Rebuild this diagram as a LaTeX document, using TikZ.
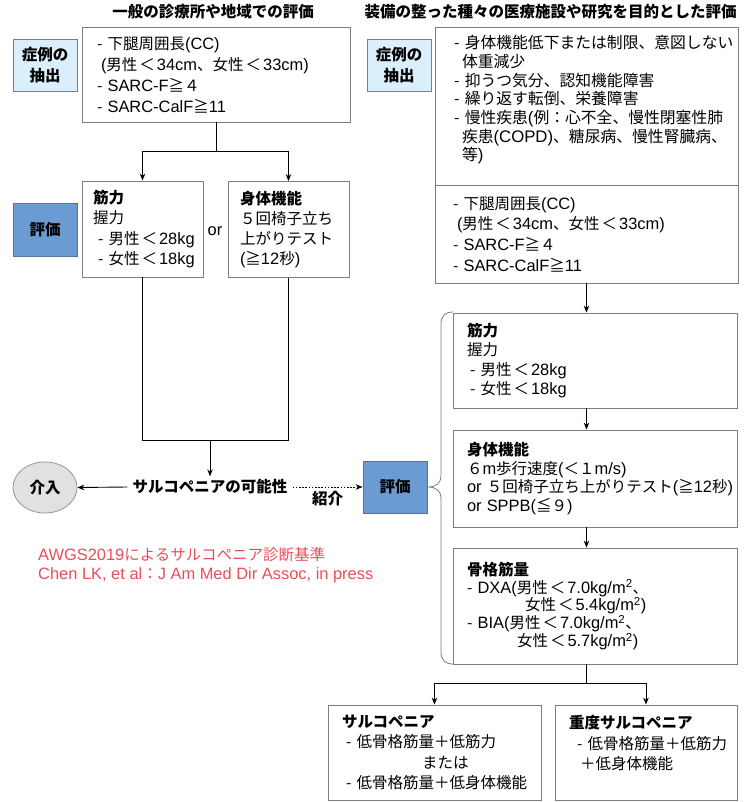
\documentclass[tikz,border=0pt]{standalone}
\usepackage{fontspec}
\setmainfont{Noto Sans CJK JP}
\newfontfamily\latfont{Liberation Sans}[Scale=1.06]
\newcommand\lt[1]{{\latfont #1}}
\newcommand\dl{\mbox{-}~}
\newcommand\lss{\kern2pt＜\kern2pt}
\usetikzlibrary{arrows.meta,shapes.geometric}
\definecolor{bgray}{RGB}{125,125,125}
\definecolor{evblue}{RGB}{106,155,210}
\definecolor{evedge}{RGB}{85,115,155}
\definecolor{exblue}{RGB}{218,238,252}
\definecolor{ingray}{RGB}{225,225,225}
\definecolor{ingrayedge}{RGB}{150,150,150}
\definecolor{refred}{RGB}{232,78,90}
\newcommand\myfs[2]{\fontsize{#1}{#2}\selectfont}
\begin{document}
\begin{tikzpicture}[x=1pt,y=-1pt,
  bx/.style={draw=bgray, line width=0.8pt, fill=white, align=left, inner ysep=0pt},
  tag/.style={draw=bgray, line width=0.8pt, minimum width=64pt, minimum height=52pt, inner sep=0pt, align=center, font=\bfseries\myfs{15.5}{21}},
  extag/.style={tag, fill=exblue},
  evtag/.style={tag, fill=evblue, draw=evedge},
  arr/.style={-{Stealth[length=7pt,width=5.5pt]}, line width=0.9pt, black},
  ln/.style={line width=0.9pt, black},
  hdr/.style={font=\bfseries\myfs{15.5}{18}, inner sep=0pt},
  bracepath/.style={draw=bgray, line width=0.8pt}]
\useasboundingbox (0,0) rectangle (755,802);

% headers
\node[hdr] (hL) at (213,12) {一般の診療所や地域での評価};
\node[hdr] (hR) at (550.5,12) {装備の整った種々の医療施設や研究を目的とした評価};

% left column
\node[extag] (exL) at (45,65) {症例の\\抽出};
\node[bx, text width=238pt, inner xsep=15pt, minimum height=95pt, font=\myfs{15.5}{21}] (critL) at (216,74.5)
  {\dl 下腿周囲長\lt{(CC)}\\\hspace*{4pt}\lt{(}男性\lss\lt{34cm}、女性\lss\lt{33cm)}\\\dl\lt{SARC-F}≧４\\\dl\lt{SARC-CalF}≧\lt{11}};

\node[evtag, minimum height=53pt] (evL) at (45,229.5) {評価};
\node[bx, text width=99pt, inner xsep=11pt, minimum height=96pt, font=\myfs{15.5}{20.3}] (musL) at (142.5,229)
  {\textbf{筋力}\\握力\\\hspace*{5pt}\dl 男性\lss\lt{28kg}\\\hspace*{5pt}\dl 女性\lss\lt{18kg}};
\node[font=\latfont\myfs{15.5}{18}, inner sep=1pt] (orL) at (215,231) {or};
\node[bx, text width=97pt, inner xsep=12pt, minimum height=96pt, font=\myfs{15.5}{20.3}] (physL) at (288.5,229.5)
  {\textbf{身体機能}\\５回椅子立ち\\上がりテスト\\\lt{(}≧\lt{12}秒\lt{)}};

\node[font=\bfseries\myfs{15.5}{18}, inner xsep=5pt, inner ysep=3pt] (poss) at (210,487) {サルコペニアの可能性};
\node[ellipse, draw=ingrayedge, fill=ingray, line width=0.8pt, minimum width=64pt, minimum height=51pt, inner sep=0pt, font=\bfseries\myfs{15.5}{18}] (intv) at (45,487.5) {介入};
\node[evtag] (evR) at (395,487) {評価};

\node[anchor=west, align=left, text=refred, font=\myfs{15.5}{19}, inner sep=0pt] (ref) at (38,565)
  {\lt{AWGS2019}によるサルコペニア診断基準\\\lt{Chen LK, et al}：\lt{J Am Med Dir Assoc, in press}};

% right column
\node[extag] (exR) at (399,65) {症例の\\抽出};
\node[bx, text width=265pt, inner xsep=19pt, minimum height=158pt, font=\myfs{15.8}{18.7}] (rcA) at (586.5,106)
  {\dl 身体機能低下または制限、意図しない\\
   \hspace*{8pt}体重減少\\
   \dl 抑うつ気分、認知機能障害\\
   \dl 繰り返す転倒、栄養障害\\
   \dl 慢性疾患\lt{(}例：心不全、慢性閉塞性肺\\
   \hspace*{8pt}疾患\lt{(COPD)}、糖尿病、慢性腎臓病、\\
   \hspace*{8pt}等\lt{)}\\[-3pt]\mbox{}};
\node[bx, text width=267pt, inner xsep=18pt, minimum height=98pt, font=\myfs{15.5}{20.7}] (rcB) at (586.5,234)
  {\dl 下腿周囲長\lt{(CC)}\\\hspace*{4pt}\lt{(}男性\lss\lt{34cm}、女性\lss\lt{33cm)}\\\dl\lt{SARC-F}≧４\\\dl\lt{SARC-CalF}≧\lt{11}};

\node[bx, text width=256pt, inner xsep=14pt, minimum height=95pt, font=\myfs{15.5}{19.3}] (musR) at (595,360.5)
  {\textbf{筋力}\\握力\\\hspace*{3pt}\dl 男性\lss\lt{28kg}\\\hspace*{3pt}\dl 女性\lss\lt{18kg}};
\node[bx, text width=256pt, inner xsep=14pt, minimum height=97pt, font=\myfs{15.5}{18.7}] (physR) at (595,478.5)
  {\textbf{身体機能}\\６\lt{m}歩行速度\lt{(}＜１\lt{m/s)}\\\lt{or}~５回椅子立ち上がりテスト\lt{(}≧\lt{12}秒\lt{)}\\\lt{or~SPPB(}≦９\lt{)}};
\node[bx, text width=256pt, inner xsep=14pt, minimum height=116pt, font=\myfs{15.5}{17.8}] (smm) at (595,606)
  {\textbf{骨格筋量}\\\dl\lt{DXA(}男性\lss\lt{7.0kg/m\textsuperscript{2}}、\\\hspace*{58pt}女性\lss\lt{5.4kg/m\textsuperscript{2})}\\\dl\lt{BIA(}男性\lss\lt{7.0kg/m\textsuperscript{2}}、\\\hspace*{50pt}女性\lss\lt{5.7kg/m\textsuperscript{2})}};

\node[bx, text width=185pt, inner xsep=14pt, minimum height=95pt, font=\myfs{15.5}{20.3}] (sarc) at (434.5,752.5)
  {\textbf{サルコペニア}\\\hspace*{4pt}\dl 低骨格筋量＋低筋力\\\hspace*{80pt}または\\\hspace*{4pt}\dl 低骨格筋量＋低身体機能};
\node[bx, text width=154pt, inner xsep=14pt, minimum height=95pt, font=\myfs{15.5}{20.3}] (sev) at (646,752.5)
  {\textbf{重度サルコペニア}\\\hspace*{8pt}\dl 低骨格筋量＋低筋力\\\hspace*{11pt}＋低身体機能\\\mbox{}};

% brace
\draw[bracepath] (453,312) .. controls (445,312) and (441,316) .. (441,324) -- (441,476)
  .. controls (441,483) and (436,487) .. (428,487)
  .. controls (436,487) and (441,491) .. (441,498) -- (441,652)
  .. controls (441,660) and (445,664) .. (453,664);

% connectors left
\coordinate (yL) at (0,151);
\coordinate (jL) at (critL.south |- yL);
\draw[ln] (critL.south) -- (jL);
\draw[arr] (jL) -| (musL.north);
\draw[arr] (jL) -| (physL.north);
\coordinate (yB) at (0,440);
\draw[ln] (musL.south) -- (musL.south |- yB) -- (physL.south |- yB) -- (physL.south);
\draw[arr] (poss.north |- yB) -- (poss.north);
\draw[arr] (poss.west) -- (intv.east);
\draw[arr, dash pattern=on 1.6pt off 1.6pt] (poss.east) -- node[midway, below=3pt, font=\bfseries\myfs{15.5}{18}, inner sep=1pt] (intro) {紹介} (evR.west);

% connectors right
\draw[arr] (rcB.south) -- (rcB.south |- musR.north);
\draw[arr] (rcB.south |- musR.south) -- (rcB.south |- physR.north);
\draw[arr] (rcB.south |- physR.south) -- (rcB.south |- smm.north);
\coordinate (yR) at (0,683);
\coordinate (jR) at (rcB.south |- yR);
\draw[ln] (rcB.south |- smm.south) -- (jR);
\draw[arr] (jR) -| (sarc.north);
\draw[arr] (jR) -| (sev.north);
\end{tikzpicture}
\end{document}
